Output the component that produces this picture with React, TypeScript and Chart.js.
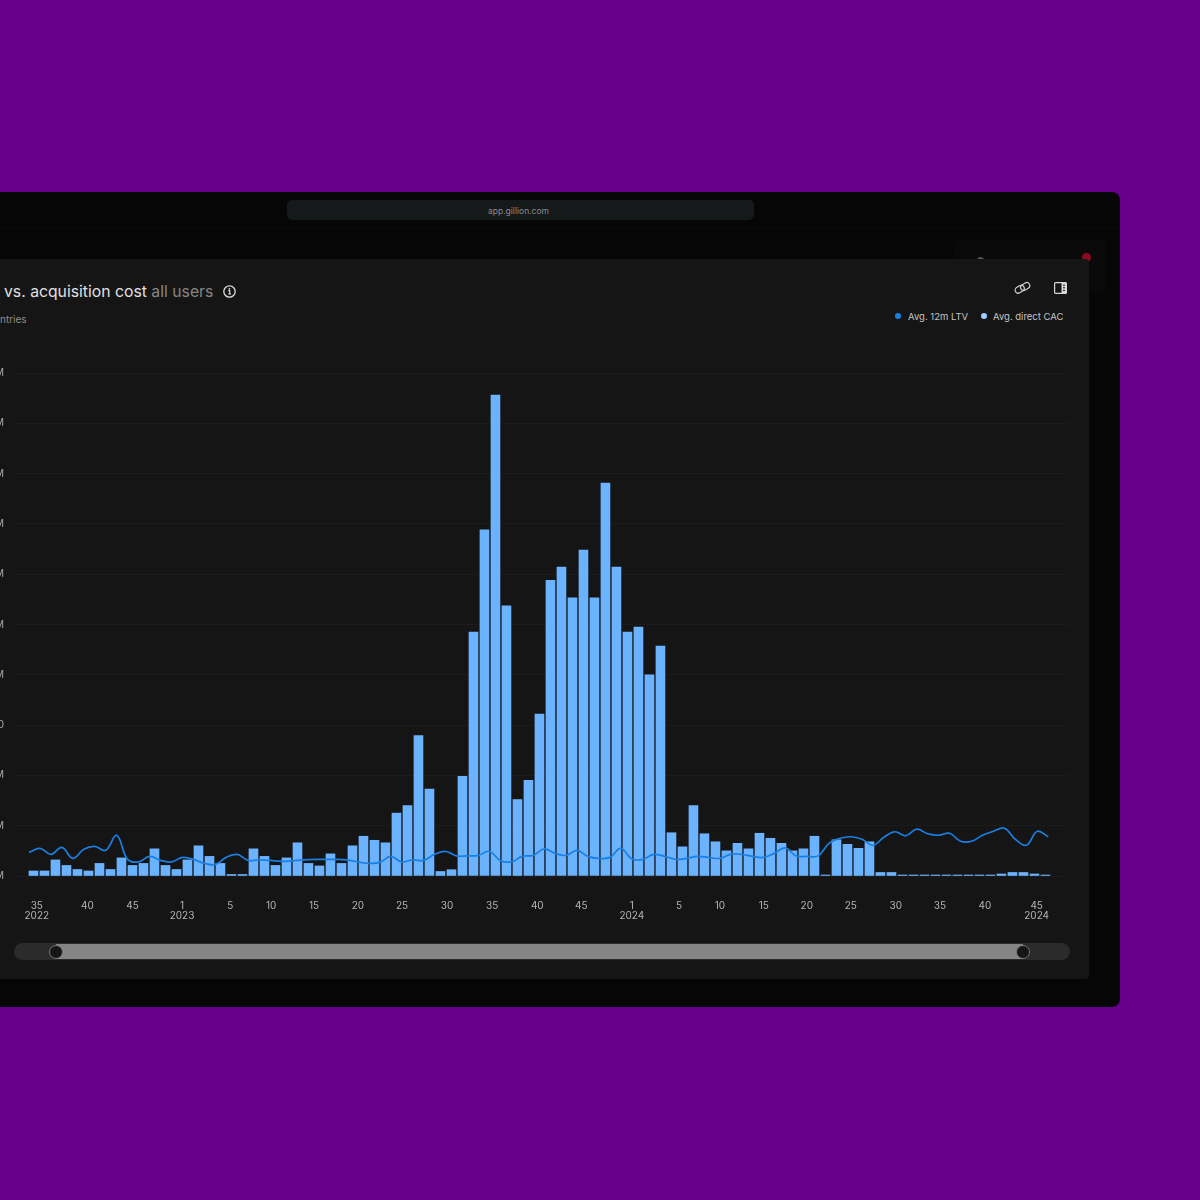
import { useEffect, useRef } from 'react'
import { Chart, registerables } from 'chart.js'

Chart.register(...registerables)

const FONT = 'Inter, "Noto Sans", sans-serif'

const barLabel = 'Avg. direct CAC'
const lineLabel = 'Avg. 12m LTV'

const cacValues = [
  1.0, 1.0, 3.2, 2.1, 1.3, 1.0, 2.5, 1.3, 3.6, 2.1, 2.5, 5.4, 2.1, 1.3, 3.2, 6.0,
  3.9, 2.5, 0.3, 0.3, 5.4, 3.9, 2.1, 3.6, 6.6, 2.5, 2.0, 4.4, 2.5, 6.0, 7.9, 7.1,
  6.6, 12.5, 14.0, 27.9, 17.3, 0.9, 1.25, 19.8, 48.5, 68.8, 95.6, 53.7, 15.2, 19.0, 32.2, 58.8,
  61.4, 55.3, 64.8, 55.3, 78.1, 61.4, 48.5, 49.5, 40.0, 45.7, 8.6, 5.8, 14.0, 8.4,
  6.8, 5.0, 6.5, 5.4, 8.5, 7.5, 6.5, 5.0, 5.4, 7.9, 0.2, 7.2, 6.3, 5.5,
  6.8, 0.7, 0.7, 0.2, 0.2, 0.2, 0.2, 0.2, 0.2, 0.2, 0.2, 0.2, 0.4, 0.7, 0.7, 0.4, 0.2,
]

const ltvValues = [
  4.7, 5.5, 4.3, 5.7, 3.5, 5.3, 5.9, 5.1, 8.1, 3.3, 2.8, 3.9, 3.1, 2.8, 3.7, 3.3,
  2.5, 2.3, 3.7, 4.3, 3.1, 3.2, 3.1, 2.9, 3.0, 3.2, 3.3, 3.3, 3.3, 3.2, 2.8, 2.5,
  2.7, 3.9, 2.8, 3.2, 3.1, 4.3, 4.9, 4.0, 4.0, 4.1, 4.9, 3.1, 2.8, 3.9, 4.1, 5.4,
  4.5, 4.1, 5.1, 3.9, 3.5, 3.7, 5.5, 3.4, 3.3, 4.3, 3.9, 3.3, 3.5, 3.9, 3.7, 3.5,
  4.3, 4.3, 3.9, 3.7, 4.5, 5.6, 4.0, 3.9, 4.0, 6.5, 7.5, 7.8, 7.3, 6.1, 7.7, 8.8,
  8.0, 9.3, 8.4, 8.1, 8.5, 6.9, 6.9, 8.1, 8.9, 9.5, 7.3, 6.1, 8.9, 7.8,
]

// week labels do not line up with the bars in the source, so they sit at their own axis values
const weekTickAt = [
  0.3, 4.9, 9, 13.5, 17.9, 21.6, 25.5, 29.5, 33.5, 37.6, 41.7, 45.8, 49.8, 54.4, 58.7, 62.4,
  66.4, 70.3, 74.3, 78.4, 82.4, 86.5, 91.2,
]
const weekTickLabels = [
  ['35', '2022'], '40', '45', ['1', '2023'], '5', '10', '15', '20', '25', '30', '35', '40', '45',
  ['1', '2024'], '5', '10', '15', '20', '25', '30', '35', '40', ['45', '2024'],
]

const yTicks = [0, 10, 20, 30, 40, 50, 60, 70, 80, 90, 100]
const yTickLabels = ['0M', '10M', '20M', '30', '40M', '50M', '60M', '70M', '80M', '90M', '100M']

const box = (
  left: number,
  top: number,
  width: number,
  height: number,
  background: string,
  borderRadius: number | string = 0,
): React.CSSProperties => ({ position: 'absolute', left, top, width, height, background, borderRadius })

const text = (left: number, top: number, fontSize: number, color: string): React.CSSProperties => ({
  position: 'absolute',
  left,
  top,
  fontSize,
  color,
  fontFamily: FONT,
  whiteSpace: 'nowrap',
  lineHeight: 1,
})

export default function App() {
  const chartRef = useRef<HTMLCanvasElement>(null)

  useEffect(() => {
    if (!chartRef.current) return
    const chart = new Chart(chartRef.current, {
      type: 'bar',
      data: {
        datasets: [
          {
            type: 'line' as const,
            label: lineLabel,
            data: ltvValues.map((y, k) => ({ x: -0.41 + k * 0.9964, y })),
            borderColor: '#1a7fe2',
            borderWidth: 1.7,
            pointRadius: 0,
            tension: 0.4,
            fill: false,
            order: 0,
          },
          {
            type: 'bar' as const,
            label: barLabel,
            data: cacValues.map((y, x) => ({ x, y })),
            backgroundColor: '#6bb2ff',
            borderWidth: 0,
            barThickness: 9,
            order: 1,
          },
        ],
      },
      options: {
        responsive: false,
        animation: false,
        layout: { padding: { left: 0, right: 132, top: 373, bottom: 274 } },
        plugins: { legend: { display: false }, tooltip: { enabled: false } },
        scales: {
          x: {
            type: 'linear',
            min: -1.68,
            max: 94.05,
            offset: false,
            grid: { display: false, drawTicks: false, offset: false },
            border: { display: false },
            afterBuildTicks: (scale: any) => {
              scale.ticks = weekTickAt.map((value) => ({ value }))
            },
            afterFit: (scale: any) => {
              scale.height = 50
              scale.paddingLeft = 0
              scale.paddingRight = 0
            },
            ticks: {
              autoSkip: false,
              maxRotation: 0,
              padding: 25,
              color: '#b4b4b4',
              font: { family: FONT, size: 10, lineHeight: 1 },
              callback: (_v: any, i: number) => weekTickLabels[i],
            },
          },
          y: {
            min: 0,
            max: 100,
            afterBuildTicks: (scale: any) => {
              scale.ticks = yTicks.map((value) => ({ value }))
            },
            afterFit: (scale: any) => {
              scale.width = 15
            },
            grid: { color: 'rgba(255,255,255,0.06)', drawTicks: false },
            border: { display: false, dash: [2, 2] },
            ticks: {
              padding: 11,
              color: '#a8a8a8',
              font: { family: FONT, size: 10 },
              callback: (_v: any, i: number) => yTickLabels[i],
            },
          },
        },
      },
    } as any)
    return () => chart.destroy()
  }, [])

  return (
    <div style={{ position: 'fixed', left: 0, top: 0, width: 1200, height: 1200, overflow: 'hidden', background: '#67008a' }}>
      <div style={box(-20, 192, 1140, 815, '#060606', 8)} />
      <div style={box(0, 227, 1120, 1, '#0b0b0b')} />
      <div style={box(287, 200, 467, 20, '#16191a', 5)} />
      <div style={{ ...text(287, 207, 8.5, '#8b8b8b'), width: 463, textAlign: 'center' }}>app.gillion.com</div>
      <div style={box(955, 240, 152, 52, '#090909', 6)} />
      <div style={box(1082, 253, 9, 9, '#8c0a22', '50%')} />
      <div style={box(977, 257, 7, 7, '#555', '50%')} />
      <div style={box(-20, 259, 1109, 720, '#151515', 4)} />

      <div style={text(4, 283.5, 15.75, '#e0e0e0')}>
        vs. acquisition cost <span style={{ color: '#858585' }}>all users</span>
      </div>
      <svg style={{ position: 'absolute', left: 222, top: 284 }} width="15" height="15" viewBox="0 0 15 15" fill="none">
        <circle cx="7.5" cy="7.5" r="5.7" stroke="#ddd" strokeWidth="1.3" />
        <path d="M6.3 6.7h1.4v3.2M6.2 10h2.8" stroke="#ddd" strokeWidth="1.2" />
        <circle cx="7.4" cy="4.8" r="0.9" fill="#ddd" />
      </svg>
      <div style={text(0, 314, 10, '#8f8f8f')}>ntries</div>

      <svg style={{ position: 'absolute', left: 1014, top: 280 }} width="17" height="16" viewBox="0 0 17 16" fill="none" stroke="#cfcfcf" strokeWidth="1.2">
        <rect x="0.9" y="6.2" width="9.6" height="6" rx="3" transform="rotate(-32 5.7 9.2)" />
        <rect x="6.4" y="3.6" width="9.6" height="6" rx="3" transform="rotate(-32 11.2 6.6)" />
      </svg>
      <svg style={{ position: 'absolute', left: 1054, top: 282 }} width="13" height="12" viewBox="0 0 13 12">
        <rect x="0.6" y="0.6" width="11.8" height="10.8" rx="1" fill="none" stroke="#d8d8d8" strokeWidth="1.2" />
        <rect x="7.5" y="0.6" width="4.9" height="10.8" fill="#d8d8d8" />
        <path d="M9 3.2h2M9 5.8h2M9 8.4h2" stroke="#151515" strokeWidth="1" />
      </svg>

      <div style={box(895, 313, 6, 6, '#1a7fe2', '50%')} />
      <div style={text(908, 311.5, 9.5, '#c4c4c4')}>{lineLabel}</div>
      <div style={box(981, 313, 6, 6, '#9bd0ff', '50%')} />
      <div style={text(993, 311.5, 9.5, '#c4c4c4')}>{barLabel}</div>

      <canvas ref={chartRef} width={1200} height={1200} style={{ position: 'absolute', left: 0, top: 0 }} />

      <div style={box(14, 943, 1056, 17, '#2b2b2b', 9)} />
      <div style={box(56, 944, 967, 15, '#858585')} />
      <div style={{ ...box(49, 945, 14, 14, '#161616', '50%'), boxSizing: 'border-box', border: '1px solid #777' }} />
      <div style={{ ...box(1016, 945, 14, 14, '#161616', '50%'), boxSizing: 'border-box', border: '1px solid #777' }} />
    </div>
  )
}
